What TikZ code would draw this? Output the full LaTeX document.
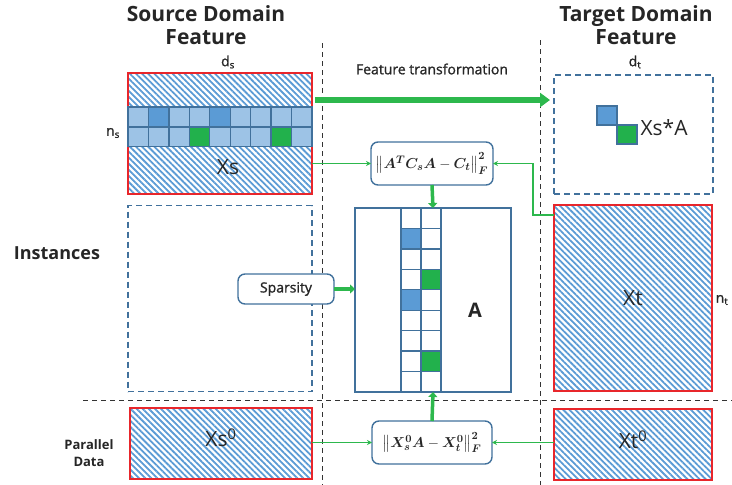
\documentclass[tikz,border=0pt]{standalone}
\usepackage{fontspec}
\setmainfont{Open Sans}
\newfontfamily\medfont[FakeBold=1.2]{Open Sans}
\usepackage{amsmath,bm}
\usetikzlibrary{patterns.meta,arrows.meta,calc}
\definecolor{hatchblue}{HTML}{5B9BD5}
\definecolor{lightcell}{HTML}{9DC3E6}
\definecolor{darkcell}{HTML}{5B9BD5}
\definecolor{greencell}{HTML}{22B14C}
\definecolor{linkgreen}{HTML}{2DB84D}
\definecolor{edgeblue}{HTML}{41719C}
\definecolor{redline}{HTML}{E8262B}
\definecolor{txt}{HTML}{262626}
\begin{document}
\begin{tikzpicture}[x=1pt,y=-1pt,
  every node/.style={text=txt},
  hatched/.style={draw=redline, line width=1.4pt, inner sep=0pt, outer sep=0pt,
    pattern={Lines[angle=-45,distance=4.3pt,line width=1.8pt]}, pattern color=hatchblue},
  dashbox/.style={draw=edgeblue, line width=1.4pt, dash pattern=on 6pt off 4pt,
    inner sep=0pt, outer sep=0pt},
  separator/.style={draw=black!80, line width=1pt, dash pattern=on 5pt off 4pt},
  cell/.style={draw=edgeblue, line width=1.3pt},
  roundbox/.style={draw=edgeblue, line width=1.4pt, rounded corners=7pt, fill=white,
    inner sep=0pt, outer sep=0pt},
  thinlink/.style={draw=linkgreen, line width=1.2pt, -{Stealth[length=5pt,width=5pt]}},
  thicklink/.style={draw=linkgreen, line width=3.5pt, -{Triangle[length=5pt,width=9pt]}},
  biglink/.style={draw=linkgreen, line width=6.5pt, -{Triangle[length=10pt,width=14pt]}},
  title/.style={font=\bfseries\fontsize{21}{23}\selectfont, align=center},
  boxlabel/.style={font=\fontsize{21}{22}\selectfont},
  dim/.style={font=\medfont\fontsize{14}{15}\selectfont},
  formula/.style={font=\fontsize{15}{16}\selectfont}
]
\useasboundingbox (0,0) rectangle (732,485);

% titles
\node[title] (srctitle) at (206,25) {Source Domain\\Feature};
\node[title] (tgttitle) at (636,25) {Target Domain\\Feature};
\node[font=\medfont\fontsize{14}{16}\selectfont] (fttitle) at (432,69) {Feature transformation};
\node[font=\bfseries\fontsize{18}{20}\selectfont] (inst) at (57,253) {Instances};
\node[font=\bfseries\fontsize{13}{17}\selectfont, align=center] (par) at (89,453) {Parallel\\Data};

% section separators
\draw[separator] (322,43) -- (322,485);
\draw[separator] (540,40) -- (540,485);
\draw[separator] (83,400) -- (732,400);

% source matrix Xs
\node[hatched, minimum width=184pt, minimum height=121pt] (xs) at (220,133.5) {};
\foreach \c/\f in {0/lightcell,1/darkcell,2/lightcell,3/lightcell,4/darkcell,5/lightcell,6/lightcell,7/lightcell,8/lightcell}
  \draw[cell, fill=\f] ({128+\c*20.44},107) rectangle ++(20.44,20);
\foreach \c/\f in {0/lightcell,1/lightcell,2/lightcell,3/greencell,4/lightcell,5/lightcell,6/lightcell,7/greencell,8/lightcell}
  \draw[cell, fill=\f] ({128+\c*20.44},127) rectangle ++(20.44,19.5);
\node[boxlabel] (xslab) at (228,167) {Xs};
\node[dim] (ds) at (228,62) {d\textsubscript{s}};
\node[dim] (ns) at (113,133) {n\textsubscript{s}};

% empty instance block under Xs
\node[dashbox, minimum width=184pt, minimum height=186pt] (lower) at (220,298.5) {};

% target transformed block
\node[dashbox, minimum width=159pt, minimum height=119pt] (tgt) at (633.5,134.5) {};
\draw[cell, fill=darkcell] (597,106) rectangle (617,125);
\draw[cell, fill=greencell] (617,125) rectangle (637,144);
\node[boxlabel, anchor=west] (xsa) at (637,128) {Xs*A};
\node[dim] (dt) at (635,62) {d\textsubscript{t}};

% target matrix Xt
\node[hatched, minimum width=158pt, minimum height=186pt] (xt) at (633,298) {};
\node[boxlabel] (xtlab) at (633,298) {Xt};
\node[dim] (nt) at (722,300) {n\textsubscript{t}};

% transformation matrix A
\node[draw=edgeblue, line width=1.4pt, minimum width=156pt, minimum height=184pt,
  inner sep=0pt, outer sep=0pt] (amat) at (433,300) {};
\foreach \r in {0,...,8}{
  \pgfmathsetmacro{\yy}{208+\r*20.44}
  \draw[cell] (401,\yy) rectangle ++(20,20.44);
  \draw[cell] (421,\yy) rectangle ++(20,20.44);
}
\foreach \r in {1,4}
  \draw[cell, fill=darkcell] (401,{208+\r*20.44}) rectangle ++(20,20.44);
\foreach \r in {3,7}
  \draw[cell, fill=greencell] (421,{208+\r*20.44}) rectangle ++(20,20.44);
\node[font=\bfseries\fontsize{20}{22}\selectfont] (alab) at (475,310) {A};

% sparsity and loss terms
\node[roundbox, minimum width=96pt, minimum height=30pt, font=\medfont\fontsize{14}{16}\selectfont] (sparsity) at (286,289) {Sparsity};
\node[roundbox, minimum width=122pt, minimum height=43pt, formula] (f1) at (432,163.5)
  {$\left\|\bm{A}^{\bm{T}}\bm{C}_{\bm{s}}\bm{A}-\bm{C}_{\bm{t}}\right\|_{\bm{F}}^{\bm{2}}$};
\node[roundbox, minimum width=120pt, minimum height=43pt, formula] (f2) at (432,442.5)
  {$\left\|\bm{X}_{\bm{s}}^{\bm{0}}\bm{A}-\bm{X}_{\bm{t}}^{\bm{0}}\right\|_{\bm{F}}^{\bm{2}}$};

% parallel data
\node[hatched, minimum width=182pt, minimum height=71pt] (xs0) at (221,443.5) {};
\node[boxlabel] (xs0lab) at (221,438) {Xs\textsuperscript{0}};
\node[hatched, minimum width=158pt, minimum height=71pt] (xt0) at (633,444.5) {};
\node[boxlabel] (xt0lab) at (633,440) {Xt\textsuperscript{0}};

% connectors
\draw[biglink] ($(xs.north east)+(3,27)$) -- ($(tgt.north west)+(-4,25)$);
\draw[thinlink] (xs.east |- f1.west) -- (f1.west);
\draw[thinlink] ($(xt.north west)+(0,10)$) -| ($(f1.east)+(40,0)$) -- (f1.east);
\draw[thicklink] (f1.south) -- (amat.north);
\draw[thicklink] (sparsity.east) -- (amat.west |- sparsity.east);
\draw[thicklink] (f2.north) -- (amat.south);
\draw[thinlink] (xs0.east |- f2.west) -- (f2.west);
\draw[thinlink] (xt0.west |- f2.east) -- (f2.east);
\end{tikzpicture}
\end{document}
